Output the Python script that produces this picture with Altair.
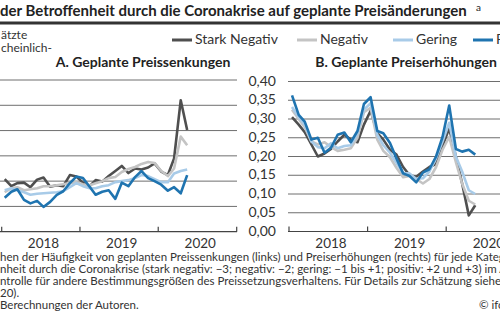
import altair as alt
import pandas as pd

FONT = "Lato"
TXT = "#333333"
GRID = "#6e6e6e"

series = ["Stark Negativ", "Negativ", "Gering", "Positiv"]
colors = ["#4f4f4f", "#c4c4c4", "#a8cbe8", "#1f74b0"]

months = [f"{2018 + i // 12}-{i % 12 + 1:02d}-15" for i in range(29)]

# A. Geplante Preissenkungen
senk_stark = [0.104, 0.090, 0.096, 0.097, 0.088, 0.103, 0.107, 0.089, 0.092, 0.090,
              0.112, 0.109, 0.097, 0.090, 0.102, 0.099, 0.110, 0.120, 0.130, 0.116,
              0.125, 0.123, 0.127, 0.135, 0.119, 0.112, 0.145, 0.260, 0.201]
senk_neg = [0.078, 0.086, 0.088, 0.082, 0.084, 0.086, 0.090, 0.090, 0.092, 0.094,
            0.096, 0.098, 0.094, 0.092, 0.096, 0.100, 0.106, 0.108, 0.118, 0.124,
            0.128, 0.134, 0.138, 0.136, 0.120, 0.110, 0.125, 0.188, 0.171]
senk_ger = [0.082, 0.086, 0.082, 0.078, 0.073, 0.075, 0.076, 0.077, 0.078, 0.080,
            0.088, 0.096, 0.090, 0.086, 0.086, 0.090, 0.092, 0.098, 0.100, 0.102,
            0.106, 0.112, 0.110, 0.104, 0.098, 0.098, 0.115, 0.120, 0.123]
senk_pos = [0.067, 0.079, 0.084, 0.063, 0.056, 0.061, 0.049, 0.059, 0.073, 0.080,
            0.096, 0.109, 0.106, 0.089, 0.073, 0.079, 0.082, 0.065, 0.097, 0.090,
            0.108, 0.120, 0.106, 0.100, 0.093, 0.081, 0.088, 0.076, 0.112]

# B. Geplante Preiserhöhungen
erh_stark = [0.305, 0.285, 0.265, 0.232, 0.200, 0.208, 0.220, 0.240, 0.258, 0.245,
             0.238, 0.285, 0.322, 0.262, 0.245, 0.218, 0.205, 0.172, 0.150, 0.146,
             0.160, 0.172, 0.180, 0.228, 0.275, 0.200, 0.128, 0.043, 0.070]
erh_neg = [0.325, 0.300, 0.278, 0.240, 0.232, 0.238, 0.225, 0.215, 0.218, 0.222,
           0.250, 0.318, 0.330, 0.245, 0.215, 0.198, 0.170, 0.145, 0.148, 0.140,
           0.128, 0.140, 0.172, 0.218, 0.252, 0.185, 0.128, 0.082, 0.072]
erh_ger = [0.332, 0.305, 0.285, 0.240, 0.225, 0.222, 0.235, 0.222, 0.228, 0.230,
           0.262, 0.325, 0.342, 0.258, 0.230, 0.210, 0.183, 0.155, 0.155, 0.140,
           0.142, 0.160, 0.195, 0.240, 0.290, 0.200, 0.160, 0.110, 0.100]
erh_pos = [0.363, 0.311, 0.293, 0.245, 0.250, 0.210, 0.223, 0.258, 0.264, 0.238,
           0.268, 0.340, 0.358, 0.268, 0.262, 0.236, 0.195, 0.155, 0.148, 0.131,
           0.157, 0.166, 0.200, 0.252, 0.336, 0.220, 0.213, 0.218, 0.205]

left_grid = [0.05, 0.10, 0.15, 0.20, 0.25, 0.30]
right_grid = [0.05, 0.10, 0.15, 0.20, 0.25, 0.30, 0.35, 0.40]
right_ticks = [0.0, 0.05, 0.10, 0.15, 0.20, 0.25, 0.30, 0.35, 0.40]
right_tick_labels = ["0,00", "0,05", "0,10", "0,15", "0,20", "0,25", "0,30", "0,35", "0,40"]
year_bounds = ["2018-01-01", "2019-01-01", "2020-01-01", "2021-01-01"]
year_mid = ["2018-07-15", "2019-07-15", "2020-07-15"]
year_labels = ["2018", "2019", "2020"]

footnotes = [
    "hen der Häufigkeit von geplanten Preissenkungen (links) und Preiserhöhungen (rechts) für jede Kategorie",
    "nheit durch die Coronakrise (stark negativ: −3; negativ: −2; gering: −1 bis +1; positiv: +2 und +3) im April",
    "ntrolle für andere Bestimmungsgrößen des Preissetzungsverhaltens. Für Details zur Schätzung siehe B",
    "20).",
]

def long_df(vals):
    rows = []
    for s, v in zip(series, vals):
        for m, y in zip(months, v):
            rows.append({"date": m, "series": s, "value": y})
    return pd.DataFrame(rows)

df_left = long_df([senk_stark, senk_neg, senk_ger, senk_pos])
df_right = long_df([erh_stark, erh_neg, erh_ger, erh_pos])

def dt(y):
    return alt.DateTime(year=y, month=1, date=1, utc=True)

XL = dict(type="utc", domain=[dt(2018), dt(2021)], range=[1.7, 236.7])
XR = dict(type="utc", domain=[dt(2018), dt(2021)], range=[289, 525])
YL = dict(domain=[0, 0.30], range=[231.7, 80])
YR = dict(domain=[0, 0.40], range=[231.5, 81.5])

layers = []

def txt(t, x, y, size, weight="normal", align="left", color=TXT):
    return alt.Chart(alt.Data(values=[{"t": t}])).mark_text(
        align=align, baseline="middle", fontSize=size, fontWeight=weight,
        font=FONT, color=color).encode(x=alt.value(x), y=alt.value(y), text="t:N")

def panel(df, xs, ys, grid, x0, x1):
    out = []
    g = pd.DataFrame({"v": grid})
    out.append(alt.Chart(g).mark_rule(color=GRID, strokeWidth=1).encode(
        y=alt.Y("v:Q", scale=alt.Scale(**ys), axis=None),
        x=alt.value(x0), x2=alt.value(x1)))
    base = pd.DataFrame({"v": [0.0]})
    out.append(alt.Chart(base).mark_rule(color="#444444", strokeWidth=1.2).encode(
        y=alt.Y("v:Q", scale=alt.Scale(**ys), axis=None),
        x=alt.value(x0), x2=alt.value(x1)))
    tk = pd.DataFrame({"d": year_bounds})
    out.append(alt.Chart(tk).mark_rule(color="#444444", strokeWidth=1.2).encode(
        x=alt.X("d:T", scale=alt.Scale(**xs), axis=None),
        y=alt.value(ys["range"][0] - 5), y2=alt.value(ys["range"][0])))
    yl = pd.DataFrame({"d": year_mid, "t": year_labels})
    out.append(alt.Chart(yl).mark_text(font=FONT, fontSize=13.5, color=TXT, baseline="middle").encode(
        x=alt.X("d:T", scale=alt.Scale(**xs), axis=None),
        y=alt.value(244), text="t:N"))
    for s, c in zip(series, colors):
        out.append(alt.Chart(df).transform_filter(alt.datum.series == s).mark_line(
            color=c, strokeWidth=2.6, strokeJoin="round").encode(
            x=alt.X("date:T", scale=alt.Scale(**xs), axis=None),
            y=alt.Y("value:Q", scale=alt.Scale(**ys), axis=None)))
    return out

layers += panel(df_left, XL, YL, left_grid, -5, 237)
layers += panel(df_right, XR, YR, right_grid, 288, 505)

rl = pd.DataFrame({"v": right_ticks, "t": right_tick_labels})
layers.append(alt.Chart(rl).mark_text(font=FONT, fontSize=14, color=TXT, align="right", baseline="middle").encode(
    y=alt.Y("v:Q", scale=alt.Scale(**YR), axis=None), x=alt.value(276), text="t:N"))

# title and rule
layers.append(txt("der Betroffenheit durch die Coronakrise auf geplante Preisänderungen", 0, 11, 15.0, "bold", color="#222222"))
layers.append(txt("a", 476, 8, 10, color="#222222"))
layers.append(alt.Chart(alt.Data(values=[{}])).mark_rule(color="#333333", strokeWidth=3).encode(
    x=alt.value(0), x2=alt.value(500), y=alt.value(23)))

# y-title fragments
layers.append(txt("ätzte", 1, 34.5, 12))
layers.append(txt("cheinlich-", 1, 47.5, 12))

# legend
leg_x = [172, 297, 393, 473]
for s, c, lx in zip(series, colors, leg_x):
    layers.append(alt.Chart(alt.Data(values=[{}])).mark_rule(color=c, strokeWidth=3).encode(
        x=alt.value(lx), x2=alt.value(lx + 20), y=alt.value(40)))
    layers.append(txt(s, lx + 23, 40, 14))

# panel titles
layers.append(txt("A. Geplante Preissenkungen", 143, 63, 14, "bold", align="center", color="#222222"))
layers.append(txt("B. Geplante Preiserhöhungen", 406, 63, 14, "bold", align="center", color="#222222"))

# footnotes
for i, f in enumerate(footnotes):
    layers.append(txt(f, 0, 258 + i * 12, 11.5))
layers.append(txt("Berechnungen der Autoren.", 0, 306, 11.5))
layers.append(txt("© ifo", 479, 306, 11.5))

chart = alt.layer(*layers).resolve_scale(x="independent", y="independent").properties(
    width=500, height=330, autosize=alt.AutoSizeParams(type="none"), padding=0,
    background="white"
).configure_view(stroke=None)

chart.save("out.html", embed_options={"renderer": "svg", "actions": False})
